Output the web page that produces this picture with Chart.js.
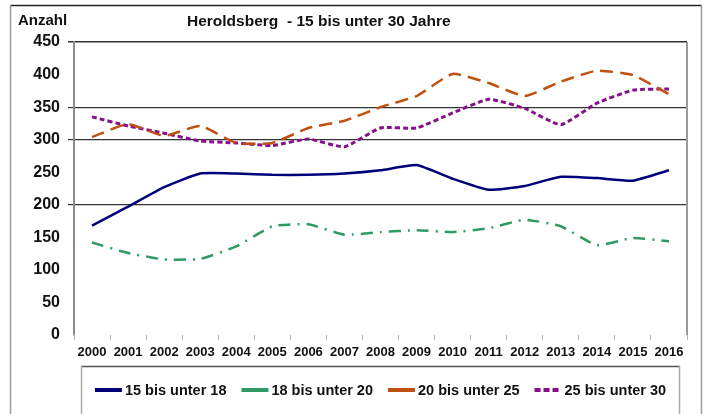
<!DOCTYPE html>
<html>
<head>
<meta charset="utf-8">
<title>Heroldsberg - 15 bis unter 30 Jahre</title>
<style>
  html, body { margin: 0; padding: 0; background: #fff; }
  .wrap { width: 707px; height: 414px; }
</style>
</head>
<body>
<div class="wrap"><canvas id="chart" width="707" height="414"></canvas></div>

<script src="https://cdn.jsdelivr.net/npm/chart.js@4"></script>
<script>
// Werte
const years = ['2000', '2001', '2002', '2003', '2004', '2005', '2006', '2007', '2008',
               '2009', '2010', '2011', '2012', '2013', '2014', '2015', '2016'];
const seriesNames = ['15 bis unter 18', '18 bis unter 20', '20 bis unter 25', '25 bis unter 30'];
const age15to18 = [168, 197, 227, 248, 248, 246, 246, 248, 253, 261, 240, 223, 229, 243, 241, 237, 253];
const age18to20 = [142, 126, 116, 117, 136, 167, 170, 154, 158, 161, 158, 164, 177, 167, 138, 149, 144];
const age20to25 = [304, 324, 306, 321, 295, 295, 318, 329, 350, 367, 401, 387, 367, 389, 406, 399, 370];
const age25to30 = [335, 321, 310, 298, 295, 291, 301, 289, 318, 318, 341, 362, 348, 323, 356, 376, 378];
const yTicks = [0, 50, 100, 150, 200, 250, 300, 350, 400, 450];
const darkGridAt = [200, 300, 350, 450];

const chartTitle = 'Heroldsberg  - 15 bis unter 30 Jahre';
const yAxisLabel = 'Anzahl';

const styles = [
    { color: '#00007a', dash: [], width: 2.5 },
    { color: '#2f9a63', dash: [12, 7, 2, 7], width: 2.5 },
    { color: '#c0500f', dash: [13, 7], width: 2.5 },
    { color: '#85108a', dash: [5, 3], width: 3 }
];

const seriesData = [age15to18, age18to20, age20to25, age25to30];

// Rahmen, Titel und Legende
const decorations = {
    id: 'decorations',
    beforeDraw(chart) {
        const c = chart.ctx;
        c.save();
        c.fillStyle = '#fff';
        c.fillRect(0, 0, chart.width, chart.height);
        // outer frame
        c.lineWidth = 1.5;
        c.strokeStyle = '#222';
        c.beginPath();
        c.moveTo(10, 5.5); c.lineTo(702, 5.5);
        c.stroke();
        c.strokeStyle = '#9a9a9a';
        c.beginPath();
        c.moveTo(10.5, 5); c.lineTo(10.5, 420);
        c.moveTo(701.5, 5); c.lineTo(701.5, 420);
        c.stroke();

        c.fillStyle = '#111';
        c.textBaseline = 'middle';
        c.textAlign = 'left';
        c.font = 'bold 15px "Liberation Sans", Arial, sans-serif';
        c.fillText(yAxisLabel, 18, 21);
        c.font = 'bold 15.5px "Liberation Sans", Arial, sans-serif';
        c.fillText(chartTitle, 187, 22);
        c.restore();
    },
    afterDraw(chart) {
        const c = chart.ctx;
        const area = chart.chartArea;
        c.save();
        // right border of plot
        c.strokeStyle = '#9a9a9a';
        c.lineWidth = 2;
        c.beginPath();
        c.moveTo(area.right, area.top);
        c.lineTo(area.right, area.bottom);
        c.stroke();

        // legend box
        const boxL = 81, boxR = 680, boxT = 366;
        c.lineWidth = 1.5;
        c.strokeStyle = '#555';
        c.beginPath();
        c.moveTo(boxL, boxT + 0.5); c.lineTo(boxR, boxT + 0.5);
        c.stroke();
        c.strokeStyle = '#aaa';
        c.beginPath();
        c.moveTo(boxL + 0.5, boxT); c.lineTo(boxL + 0.5, 420);
        c.moveTo(boxR - 0.5, boxT); c.lineTo(boxR - 0.5, 420);
        c.stroke();

        // legend items
        c.font = 'bold 14.5px "Liberation Sans", Arial, sans-serif';
        c.textBaseline = 'middle';
        c.textAlign = 'left';
        const lineLen = 27, gap = 3, spacing = 15;
        const items = chart.data.datasets.map(ds => ({
            ds, w: lineLen + gap + c.measureText(ds.label).width
        }));
        const total = items.reduce((s, it) => s + it.w, 0) + spacing * (items.length - 1);
        let x = (boxL + boxR) / 2 - total / 2;
        const y = 390;
        items.forEach(it => {
            c.strokeStyle = it.ds.borderColor;
            c.lineWidth = 4;
            c.setLineDash(it.ds.borderDash.length === 2 && it.ds.borderDash[0] < 8 ? [6, 3] : []);
            c.beginPath();
            c.moveTo(x, y); c.lineTo(x + lineLen, y);
            c.stroke();
            c.setLineDash([]);
            c.fillStyle = '#111';
            c.fillText(it.ds.label, x + lineLen + gap, y + 1);
            x += it.w + spacing;
        });
        c.restore();
    }
};

const ctx = document.getElementById('chart').getContext('2d');
const chart = new Chart(ctx, {
    type: 'line',
    data: {
        labels: years,
        datasets: seriesData.map((vals, i) => ({
            label: seriesNames[i],
            data: vals,
            borderColor: styles[i].color,
            backgroundColor: styles[i].color,
            borderDash: styles[i].dash,
            borderWidth: styles[i].width,
            pointRadius: 0,
            tension: 0.15,
            fill: false
        }))
    },
    options: {
        responsive: false,
        devicePixelRatio: 1,
        animation: false,
        layout: { padding: { top: 42, right: 20, left: 0, bottom: 0 } },
        plugins: {
            legend: { display: false },
            title: { display: false },
            tooltip: { enabled: false }
        },
        scales: {
            x: {
                offset: true,
                afterFit(s) { s.height = 79; },
                grid: {
                    offset: true,
                    drawOnChartArea: false,
                    drawTicks: true,
                    tickLength: 5,
                    color: '#b5b5b5'
                },
                border: { display: false },
                ticks: {
                    color: '#111',
                    padding: 5,
                    maxRotation: 0,
                    autoSkip: false,
                    font: { family: '"Liberation Sans", Arial, sans-serif', size: 13, weight: 'bold' }
                }
            },
            y: {
                min: 0,
                max: 450,
                afterFit(s) { s.width = 74; },
                afterBuildTicks(s) { s.ticks = yTicks.map(v => ({ value: v })); },
                grid: {
                    color: c => darkGridAt.includes(c.tick.value) ? '#333' : 'rgba(0,0,0,0)',
                    lineWidth: c => c.tick.value === 450 ? 1.5 : 1.2,
                    tickLength: 6
                },
                border: { display: true, color: '#8c8c8c', width: 2 },
                ticks: {
                    color: '#111',
                    padding: 8,
                    font: { family: '"Liberation Sans", Arial, sans-serif', size: 16, weight: 'bold' }
                }
            }
        }
    },
    plugins: [decorations]
});
</script>
</body>
</html>
